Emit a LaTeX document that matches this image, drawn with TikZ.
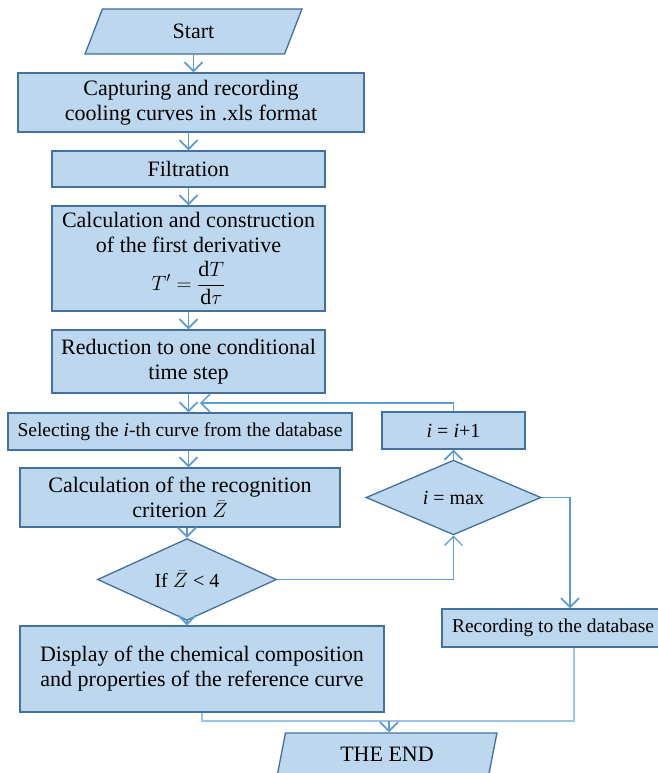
\documentclass[tikz,border=0pt]{standalone}
\usepackage{amsmath}
\usepackage{fontspec}
\setmainfont{Liberation Serif}
\usepackage{xcolor}
\usepackage{tikz}
\usetikzlibrary{arrows.meta, positioning, shapes.geometric, calc}
\definecolor{boxfill}{HTML}{BDD7EE}
\definecolor{boxline}{HTML}{41719C}
\definecolor{arrline}{HTML}{5B9BD5}
\definecolor{liteline}{HTML}{9DC3E6}

\begin{document}
\begin{tikzpicture}[
      x=1pt, y=-1pt,
      every node/.style={font=\fontsize{22}{25}\selectfont, align=center, inner sep=0pt},
      block/.style={rectangle, draw=boxline, fill=boxfill, line width=1.3pt},
      io/.style={trapezium, trapezium left angle=75, trapezium right angle=105,
        trapezium stretches=true, draw=boxline, fill=boxfill, line width=1.3pt},
      decision/.style={diamond, draw=boxline, fill=boxfill, line width=1.3pt},
      arr/.style={draw=arrline, line width=1.8pt, -{Straight Barb[length=9pt, width=18pt]}},
      lite/.style={draw=liteline, line width=1.3pt}
    ]
      \useasboundingbox (0,0) rectangle (657,773);

      \node[io, minimum width=217pt, minimum height=45pt] (start) at (193.5,31.5) {Start};
      \node[block, minimum width=346pt, minimum height=59pt] (capture) at (191,102.5)
        {Capturing and recording\\cooling curves in .xls format};
      \node[block, minimum width=273pt, minimum height=36pt] (filt) at (188.5,169) {Filtration};
      \node[block, minimum width=273pt, minimum height=105pt] (deriv) at (188.5,258.5)
        {Calculation and construction\\of the first derivative\\[7pt]
         $T' = \dfrac{\mathrm{d}T}{\mathrm{d}\tau}$};
      \node[block, minimum width=273pt, minimum height=63pt] (reduce) at (188.5,361.5)
        {Reduction to one conditional\\time step};
      \node[block, minimum width=344pt, minimum height=37pt, font=\fontsize{19.5}{22}\selectfont]
        (select) at (180,431.5) {Selecting the \textit{i}-th curve from the database};
      \node[block, minimum width=320pt, minimum height=59pt] (crit) at (180,497.5)
        {Calculation of the recognition\\criterion $\bar{Z}$};
      \node[decision, minimum width=179pt, minimum height=63pt, font=\fontsize{20}{24}\selectfont]
        (ifz) at (187,579.5) {If $\bar{Z}$ < 4};
      \node[block, minimum width=364pt, minimum height=86pt] (display) at (202,669)
        {Display of the chemical composition\\and properties of the reference curve};
      \node[block, minimum width=143pt, minimum height=37pt, font=\fontsize{20}{24}\selectfont]
        (incr) at (453.5,430.5) {\textit{i} = \textit{i}+1};
      \node[decision, minimum width=175pt, minimum height=63pt, font=\fontsize{20}{24}\selectfont]
        (imax) at (453.5,497.5) {\textit{i} = max};
      \node[block, minimum width=222pt, minimum height=38pt, font=\fontsize{19.5}{22}\selectfont]
        (record) at (553,628) {Recording to the database};
      \node[io, minimum width=220pt, minimum height=43pt] (theend) at (387,754.5) {THE END};

      \coordinate (back) at (200,403);
      \coordinate (join) at (389,721);

      \draw[arr] (start.south) -- (start.south |- capture.north);
      \draw[arr] (filt.north |- capture.south) -- (filt.north);
      \draw[arr] (filt.south) -- (deriv.north);
      \draw[arr] (deriv.south) -- (reduce.north);
      \draw[arr] (reduce.south) -- (reduce.south |- select.north);
      \draw[arr] (reduce.south |- select.south) -- (reduce.south |- crit.north);
      \draw[arr] (ifz.north |- crit.south) -- (ifz.north);
      \draw[arr] (ifz.south) -- (ifz.south |- display.north);
      \draw[arr, line width=1.5pt] (incr.north) |- (back);
      \draw[arr] (imax.north) -- (incr.south);
      \draw[arr, line width=1.3pt] (ifz.east) -| (imax.south);
      \draw[arr] (imax.east) -| ([xshift=17pt]record.north);
      \draw[lite] (display.south) |- (join) -| ([xshift=21pt]record.south);
      \draw[arr] (join) -- (join |- theend.north);
    \end{tikzpicture}
\end{document}
